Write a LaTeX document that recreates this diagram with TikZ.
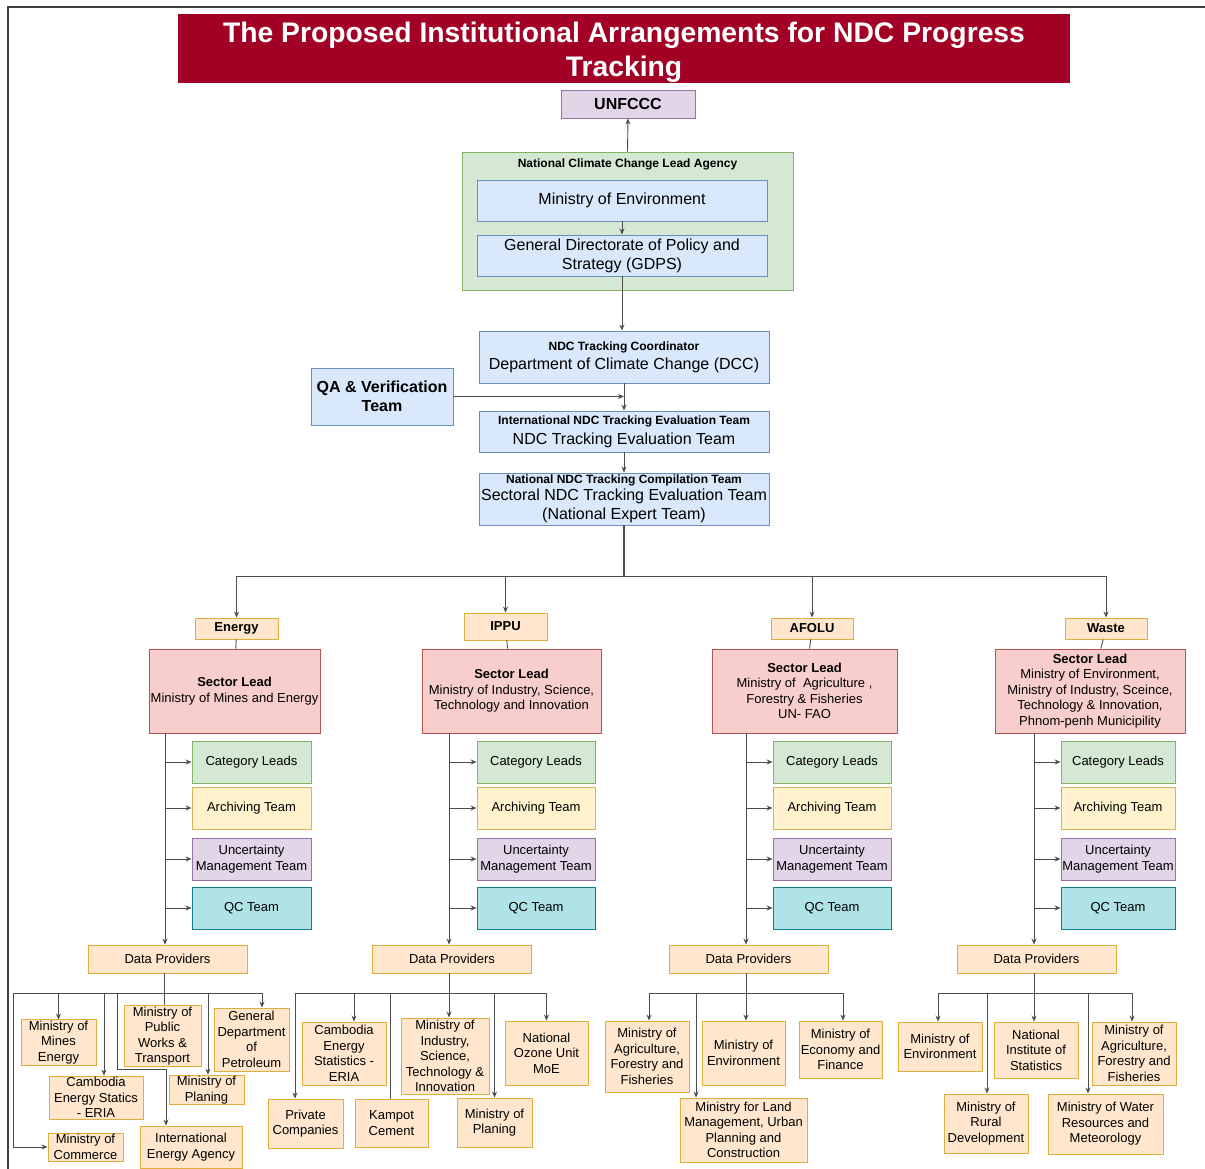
\documentclass[tikz,border=0pt]{standalone}
\usepackage{fontspec}
\setmainfont{Liberation Sans}
\usetikzlibrary{arrows.meta, positioning, calc}
\definecolor{titlered}{RGB}{162, 0, 37}
\definecolor{boxblue}{HTML}{DAE8FC}
\definecolor{lineblue}{HTML}{6C8EBF}
\definecolor{boxgreen}{HTML}{D5E8D4}
\definecolor{linegreen}{HTML}{82B366}
\definecolor{boxred}{HTML}{F8CECC}
\definecolor{linered}{HTML}{B85450}
\definecolor{boxyellow}{HTML}{FFF2CC}
\definecolor{lineyellow}{HTML}{D6B656}
\definecolor{boxpurple}{HTML}{E1D5E7}
\definecolor{linepurple}{HTML}{9673A6}
\definecolor{boxcyan}{HTML}{B0E3E6}
\definecolor{linecyan}{HTML}{0E8088}
\definecolor{boxorange}{HTML}{FFE6CC}
\definecolor{lineorange}{HTML}{E0AE3C}

\begin{document}
\begin{tikzpicture}[
    x=1pt, y=-1pt,
    arr/.style={-{Stealth[length=6pt, width=5pt]}, line width=0.9pt, black!70},
    link/.style={line width=0.9pt, black!70},
    box/.style={draw, line width=0.9pt, align=center, inner sep=1pt,
                font=\fontsize{13}{15.5}\selectfont},
    sz/.style 2 args={minimum width=#1pt, minimum height=#2pt},
    bigtext/.style={font=\fontsize{16}{19}\selectfont},
    headtext/.style={font=\fontsize{12}{14}\selectfont\bfseries},
    bluebox/.style={box, fill=boxblue, draw=lineblue},
    greenbox/.style={box, fill=boxgreen, draw=linegreen},
    redbox/.style={box, fill=boxred, draw=linered},
    yellowbox/.style={box, fill=boxyellow, draw=lineyellow},
    purplebox/.style={box, fill=boxpurple, draw=linepurple},
    cyanbox/.style={box, fill=boxcyan, draw=linecyan},
    orangebox/.style={box, fill=boxorange, draw=lineorange}
  ]
    \useasboundingbox (0,0) rectangle (1205,1169);
    \draw[black!75, line width=1.2pt] (1205,7) -- (8,7) -- (8,1169);

    % top of the chain
    \node[fill=titlered, text=white, sz={892}{69}, align=center, inner sep=0pt,
          font=\fontsize{28.3}{34}\selectfont\bfseries]
      (title) at (624, 48.5) {\rule{0pt}{28pt}The Proposed Institutional Arrangements for NDC Progress\\Tracking};
    \node[purplebox, sz={134}{28}, font=\fontsize{16}{19}\selectfont\bfseries]
      (unfccc) at (628, 104) {UNFCCC};
    \node[greenbox, sz={331}{138}] (agency) at (627.5, 221) {};
    \node[headtext] (agencyname) at (627.5, 164) {National Climate Change Lead Agency};
    \node[bluebox, sz={290}{41}, bigtext] (moe) at (622, 200.5) {Ministry of Environment};
    \node[bluebox, sz={290}{41}, bigtext]
      (gdps) at (622, 255.5) {General Directorate of Policy and\\Strategy (GDPS)};
    \node[bluebox, sz={290}{52}, bigtext]
      (dcc) at (624, 357) {{\fontsize{12}{14}\selectfont\bfseries NDC Tracking Coordinator}\\Department of Climate Change (DCC)};
    \node[bluebox, sz={142}{57}, font=\fontsize{16}{19}\selectfont\bfseries]
      (qa) at (382, 396.5) {QA \& Verification\\Team};
    \node[bluebox, sz={290}{41}, bigtext]
      (intl) at (624, 431.5) {{\fontsize{12}{14}\selectfont\bfseries International NDC Tracking Evaluation Team}\\[1pt]NDC Tracking Evaluation Team};
    \node[bluebox, sz={290}{52}, bigtext]
      (natl) at (624, 499) {{\fontsize{12}{14}\selectfont\bfseries National NDC Tracking Compilation Team}\\[-2pt]Sectoral NDC Tracking Evaluation Team\\(National Expert Team)};

    \draw[arr] (agency.north) -- (unfccc.south);
    \draw[arr] (moe) -- (gdps);
    \draw[arr] (gdps.south) -- (gdps.south |- dcc.north);
    \draw[arr] (dcc) -- (intl);
    \draw[arr] (qa.east) -- (qa.east -| dcc.south);
    \draw[arr] (intl) -- (natl);

    % sectors
    \node[orangebox, sz={83}{21}, font=\fontsize{13}{15}\selectfont\bfseries] (energy) at (236.5, 628.5) {Energy};
    \node[orangebox, sz={83}{27}, font=\fontsize{13}{15}\selectfont\bfseries] (ippu) at (505.5, 626.5) {IPPU};
    \node[orangebox, sz={82}{21}, font=\fontsize{13}{15}\selectfont\bfseries] (afolu) at (812, 628.5) {AFOLU};
    \node[orangebox, sz={82}{21}, font=\fontsize{13}{15}\selectfont\bfseries] (waste) at (1106, 628.5) {Waste};

    \coordinate (fan) at (624, 576);
    \draw[link, line width=1.6pt] (natl.south) -- (fan);
    \draw[arr] (fan) -| (energy.north);
    \draw[arr] (fan) -| (ippu.north);
    \draw[arr] (fan) -| (afolu.north);
    \draw[arr] (fan) -| (waste.north);

    \node[redbox, sz={171}{84}] (e-lead) at (234.5, 691)
      {\textbf{Sector Lead}\\Ministry of Mines and Energy};
    \node[redbox, sz={179}{84}] (i-lead) at (511.5, 691)
      {\textbf{Sector Lead}\\Ministry of Industry, Science,\\Technology and Innovation};
    \node[redbox, sz={185}{84}] (a-lead) at (804.5, 691)
      {\textbf{Sector Lead}\\Ministry of\ \ Agriculture ,\\Forestry \& Fisheries\\UN- FAO};
    \node[redbox, sz={190}{84}] (w-lead) at (1090, 691)
      {\textbf{Sector Lead}\\Ministry of Environment,\\Ministry of Industry, Sceince,\\Technology \& Innovation,\\Phnom-penh Municipility};

    \draw[link] (energy) -- (e-lead);
    \draw[link] (ippu) -- (i-lead);
    \draw[link] (afolu) -- (a-lead);
    \draw[link] (waste) -- (w-lead);

    \foreach \s/\cx/\bw/\sx/\dx in {e/251.5/119/165/167.5, i/536/118/449/452,
                                    a/832/118/746/748.5, w/1118/114/1034/1036.5} {
      \node[greenbox, sz={\bw}{42}] (\s-cat) at (\cx, 762) {Category Leads};
      \node[yellowbox, sz={\bw}{42}] (\s-arch) at (\cx, 808) {Archiving Team};
      \node[purplebox, sz={\bw}{42}] (\s-unc) at (\cx, 859) {Uncertainty\\Management Team};
      \node[cyanbox, sz={\bw}{42}] (\s-qc) at (\cx, 908) {QC Team};
      \node[orangebox, sz={159}{28}] (\s-data) at (\dx, 959) {Data Providers};
      \coordinate (\s-spine) at (\sx, 733);
      \draw[arr] (\s-spine) -- (\s-spine |- \s-data.north);
      \foreach \t in {cat, arch, unc, qc}
        \draw[arr] (\s-spine |- \s-\t.west) -- (\s-\t.west);
    }

    % data providers, energy
    \node[orangebox, sz={75}{43}] (mme) at (58.5, 1042.5) {Ministry of\\Mines\\Energy};
    \node[orangebox, sz={77}{56}] (mpwt) at (162.5, 1036) {Ministry of\\Public\\Works \&\\Transport};
    \node[orangebox, sz={75}{63}] (gdpet) at (251.5, 1039.5) {General\\Department\\of\\Petroleum};
    \node[orangebox, sz={94}{43}] (cesera) at (96, 1097.5) {Cambodia\\Energy Statics\\- ERIA};
    \node[orangebox, sz={75}{28}] (mplan) at (206.5, 1090) {Ministry of\\Planing};
    \node[orangebox, sz={75}{28}] (mcom) at (85.5, 1147) {Ministry of\\Commerce};
    \node[orangebox, sz={102}{42}] (iea) at (191, 1147) {International\\Energy Agency};

    \coordinate (ebus) at (164, 993);
    \coordinate (ebusl) at (13, 993);
    \coordinate (ieaturn) at (117, 1069);
    \draw[link] (ebus |- e-data.south) -- (ebus |- mpwt.north);
    \draw[arr] (ebus) -- (ebusl) |- (mcom.west);
    \draw[arr] (ebus) -| (mme.north);
    \draw[arr] (ebus) -| ([xshift=8pt]cesera.north);
    \draw[arr] (ebus) -| (ieaturn) -| ([xshift=-25pt]iea.north);
    \draw[arr] (ebus) -| ([xshift=1.5pt]mplan.north);
    \draw[arr] (ebus) -| ([xshift=10.5pt]gdpet.north);

    % data providers, ippu
    \node[orangebox, sz={75}{49}] (pvt) at (305.5, 1123.5) {Private\\Companies};
    \node[orangebox, sz={84}{63}] (cesi) at (344, 1053.5) {Cambodia\\Energy\\Statistics -\\ERIA};
    \node[orangebox, sz={73}{48}] (kampot) at (391.5, 1123) {Kampot\\Cement};
    \node[orangebox, sz={88}{76}] (mist) at (445, 1056) {Ministry of\\Industry,\\Science,\\Technology \&\\Innovation};
    \node[orangebox, sz={75}{49}] (mplani) at (494.5, 1122.5) {Ministry of\\Planing};
    \node[orangebox, sz={83}{64}] (ozone) at (546.5, 1053) {National\\Ozone Unit\\MoE};

    \coordinate (ibus) at (449, 993);
    \draw[arr] (ibus |- i-data.south) -- (ibus |- mist.north);
    \draw[arr] (ibus) -| ([xshift=-10.5pt]pvt.north);
    \draw[arr] (ibus) -| ([xshift=10pt]cesi.north);
    \draw[link] (ibus) -| ([xshift=-1.5pt]kampot.north);
    \draw[arr] (ibus) -| (mplani.north);
    \draw[arr] (ibus) -| (ozone.north);

    % data providers, afolu
    \node[orangebox, sz={84}{71}] (maff) at (647, 1056.5) {Ministry of\\Agriculture,\\Forestry and\\Fisheries};
    \node[orangebox, sz={127}{64}] (mlmupc) at (743.5, 1130) {Ministry for Land\\Management, Urban\\Planning and\\Construction};
    \node[orangebox, sz={83}{64}] (menva) at (743.5, 1053) {Ministry of\\Environment};
    \node[orangebox, sz={83}{57}] (mef) at (840.5, 1049.5) {Ministry of\\Economy and\\Finance};

    \coordinate (abus) at (746, 993);
    \draw[arr] (abus |- a-data.south) -- (abus |- menva.north);
    \draw[arr] (abus) -| ([xshift=2pt]maff.north);
    \draw[arr] (abus) -| ([xshift=-47.5pt]mlmupc.north);
    \draw[arr] (abus) -| ([xshift=2.5pt]mef.north);

    % data providers, waste
    \node[orangebox, sz={84}{49}] (wenv) at (940, 1046.5) {Ministry of\\Environment};
    \node[orangebox, sz={84}{59}] (mrd) at (986, 1123.5) {Ministry of\\Rural\\Development};
    \node[orangebox, sz={84}{56}] (nis) at (1036, 1050) {National\\Institute of\\Statistics};
    \node[orangebox, sz={115}{60}] (mowram) at (1105.5, 1124) {Ministry of Water\\Resources and\\Meteorology};
    \node[orangebox, sz={84}{63}] (maffw) at (1134, 1053.5) {Ministry of\\Agriculture,\\Forestry and\\Fisheries};

    \coordinate (wbus) at (1034, 993);
    \draw[arr] (wbus |- w-data.south) -- (wbus |- nis.north);
    \draw[arr] (wbus) -| ([xshift=-2pt]wenv.north);
    \draw[arr] (wbus) -| ([xshift=1pt]mrd.north);
    \draw[arr] (wbus) -| ([xshift=-17.5pt]mowram.north);
    \draw[arr] (wbus) -| ([xshift=-2pt]maffw.north);
\end{tikzpicture}
\end{document}
